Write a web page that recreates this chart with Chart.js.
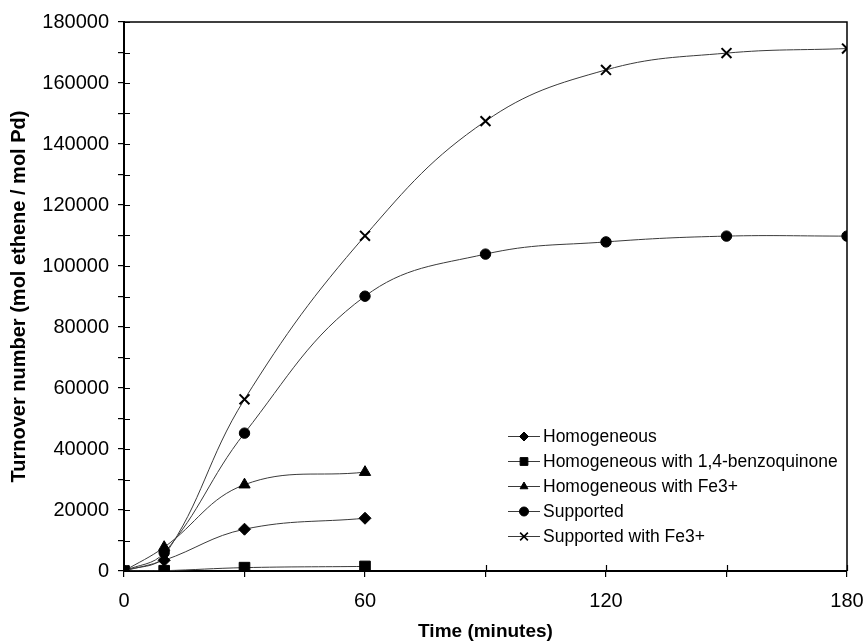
<!DOCTYPE html>
<html>
<head>
<meta charset="utf-8">
<script src="https://cdn.jsdelivr.net/npm/chart.js@4.4.1/dist/chart.umd.min.js"></script>
<style>
  html, body { margin: 0; padding: 0; background: #fff; }
  #wrap { width: 867px; height: 643px; }
</style>
</head>
<body>
<div id="wrap"><canvas id="chart" width="867" height="643"></canvas></div>
<script>
// ---- data ----
const seriesNames = [
  "Homogeneous",
  "Homogeneous with 1,4-benzoquinone",
  "Homogeneous with Fe3+",
  "Supported",
  "Supported with Fe3+"
];
const timesShort = [0, 10, 30, 60];
const timesLong = [0, 10, 30, 60, 90, 120, 150, 180];

const homogeneous = [0, 3500, 13700, 17300];
const homBenzoquinone = [0, 100, 1100, 1500];
const homFe3 = [0, 7800, 28300, 32400];
const supported = [0, 6000, 45200, 90100, 103900, 107900, 109800, 109800];
const supportedFe3 = [0, 5000, 56300, 109900, 147500, 164300, 169800, 171300];

const xTicks = [0, 60, 120, 180];
const yMax = 180000;

const pointStyles = ["rectRot", "rect", "triangle", "circle", "crossRot"];
const pointSizes = [6, 7.5, 6.5, 5.2, 7];

function toPoints(xs, ys) {
  return ys.map((y, i) => ({ x: xs[i], y: y }));
}

const seriesData = [
  toPoints(timesShort, homogeneous),
  toPoints(timesShort, homBenzoquinone),
  toPoints(timesShort, homFe3),
  toPoints(timesLong, supported),
  toPoints(timesLong, supportedFe3)
];

const datasets = seriesNames.map((name, i) => ({
  label: name,
  data: seriesData[i],
  showLine: true,
  borderColor: "#3a3a3a",
  borderWidth: 1,
  tension: 0.4,
  pointStyle: pointStyles[i],
  pointRadius: pointSizes[i],
  pointBackgroundColor: "#000",
  pointBorderColor: "#000",
  pointBorderWidth: pointStyles[i] === "crossRot" ? 2 : 1
}));

// frame on top/right + inner halves of the tick marks
const framePlugin = {
  id: "frame",
  afterDatasetsDraw(chart) {
    const { ctx, chartArea: a, scales } = chart;
    ctx.save();
    ctx.strokeStyle = "#000";
    ctx.lineWidth = 1.5;
    ctx.beginPath();
    ctx.moveTo(a.left, a.top);
    ctx.lineTo(a.right, a.top);
    ctx.lineTo(a.right, a.bottom);
    ctx.stroke();
    ctx.lineWidth = 1.2;
    ctx.beginPath();
    scales.y.ticks.forEach(t => {
      const py = Math.round(scales.y.getPixelForValue(t.value)) + 0.5;
      ctx.moveTo(a.left, py);
      ctx.lineTo(a.left + 6, py);
    });
    scales.x.ticks.forEach(t => {
      const px = Math.round(scales.x.getPixelForValue(t.value)) + 0.5;
      ctx.moveTo(px, a.bottom);
      ctx.lineTo(px, a.bottom - 6);
    });
    ctx.stroke();
    ctx.restore();
  }
};

// legend drawn inside the plot area
const innerLegend = {
  id: "innerLegend",
  afterDraw(chart) {
    const ctx = chart.ctx;
    const x0 = 508, x1 = 540, textX = 543;
    const rowY = [436, 461, 486, 511, 536];
    ctx.save();
    chart.data.datasets.forEach((ds, i) => {
      const y = rowY[i];
      ctx.strokeStyle = "#3a3a3a";
      ctx.lineWidth = 1;
      ctx.beginPath();
      ctx.moveTo(x0, y + 0.5);
      ctx.lineTo(x1, y + 0.5);
      ctx.stroke();
      ctx.fillStyle = "#000";
      ctx.strokeStyle = "#000";
      ctx.lineWidth = ds.pointStyle === "crossRot" ? 1.6 : 1;
      Chart.helpers.drawPoint(ctx, {
        pointStyle: ds.pointStyle,
        radius: ds.pointStyle === "crossRot" ? 5.5 : (ds.pointStyle === "rect" ? 5.5 : 4.5),
        rotation: 0,
        borderWidth: ctx.lineWidth
      }, (x0 + x1) / 2, y + 0.5);
      ctx.fillStyle = "#000";
      ctx.font = "17.5px 'Liberation Sans', Arial, sans-serif";
      ctx.textBaseline = "middle";
      ctx.textAlign = "left";
      ctx.fillText(ds.label, textX, y + 1);
    });
    ctx.restore();
  }
};

const tickFont = { family: "'Liberation Sans', Arial, sans-serif", size: 20 };
const xTitleFont = { family: "'Liberation Sans', Arial, sans-serif", size: 19, weight: "bold" };
const yTitleFont = { family: "'Liberation Sans', Arial, sans-serif", size: 20, weight: "bold" };

new Chart(document.getElementById("chart").getContext("2d"), {
  type: "scatter",
  data: { datasets: datasets },
  plugins: [framePlugin, innerLegend],
  options: {
    responsive: false,
    animation: false,
    layout: { padding: { top: 22, right: 20, left: 0, bottom: 0 } },
    plugins: {
      legend: { display: false },
      tooltip: { enabled: false }
    },
    scales: {
      x: {
        type: "linear",
        min: xTicks[0],
        max: xTicks[xTicks.length - 1],
        afterFit: s => { s.height = 72; s.paddingLeft = 0; s.paddingRight = 0; },
        ticks: {
          stepSize: 30,
          color: "#000",
          font: tickFont,
          padding: 12,
          maxRotation: 0,
          callback: v => (xTicks.includes(v) ? String(v) : "")
        },
        grid: { drawOnChartArea: false, drawTicks: true, tickLength: 6, color: "#000", lineWidth: 1.2 },
        border: { display: true, color: "#000", width: 2 },
        title: { display: true, text: "Time (minutes)", color: "#000", font: xTitleFont, padding: { top: 0, bottom: 0 } }
      },
      y: {
        type: "linear",
        min: 0,
        max: yMax,
        afterFit: s => { s.width = 124; s.paddingTop = 0; s.paddingBottom = 0; },
        ticks: {
          stepSize: 10000,
          color: "#000",
          font: tickFont,
          padding: 9,
          callback: v => (v % 20000 === 0 ? String(v) : "")
        },
        grid: { drawOnChartArea: false, drawTicks: true, tickLength: 6, color: "#000", lineWidth: 1.2 },
        border: { display: true, color: "#000", width: 2 },
        title: { display: true, text: "Turnover number (mol ethene / mol Pd)", color: "#000", font: yTitleFont, padding: { top: 7, bottom: 0 } }
      }
    }
  }
});
</script>
</body>
</html>
